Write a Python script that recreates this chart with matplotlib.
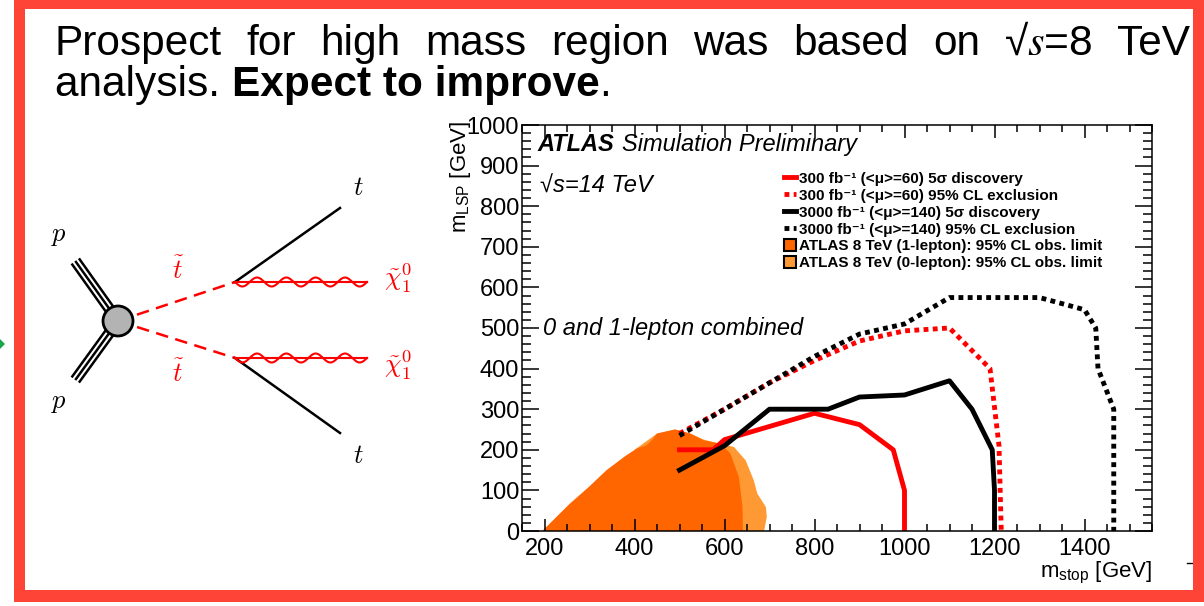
import numpy as np
import matplotlib
matplotlib.use('Agg')
import matplotlib.pyplot as plt
from matplotlib.lines import Line2D
from matplotlib.patches import Patch, Rectangle, Circle, Polygon
from matplotlib.ticker import MultipleLocator

plt.rcParams['font.family'] = ['Liberation Sans', 'DejaVu Sans']
plt.rcParams['mathtext.fontset'] = 'custom'
plt.rcParams['mathtext.rm'] = 'Liberation Sans'
plt.rcParams['mathtext.it'] = 'Liberation Sans:italic'
plt.rcParams['mathtext.bf'] = 'Liberation Sans:bold'

# ---- stop -> top + LSP sensitivity curves (m_stop, m_LSP in GeV)
disc300_x = [500, 575, 600, 800, 900, 975, 1000, 1000]
disc300_y = [200, 200, 225, 290, 262, 200, 100, 0]
excl300_x = [500, 600, 700, 800, 900, 1000, 1100, 1190, 1210, 1215]
excl300_y = [240, 300, 365, 420, 468, 493, 500, 400, 210, 0]
disc3000_x = [500, 600, 700, 830, 900, 1000, 1100, 1150, 1195, 1200, 1200]
disc3000_y = [150, 210, 300, 300, 330, 335, 370, 300, 200, 100, 0]
excl3000_x = [500, 600, 700, 800, 900, 1000, 1100, 1300, 1400, 1425, 1430, 1465, 1465]
excl3000_y = [235, 300, 365, 430, 485, 510, 575, 575, 545, 500, 400, 300, 0]

# 8 TeV observed limits
lim1l_x = [195, 256, 300, 338, 380, 405, 427, 440, 450, 490, 524, 554, 591, 613, 632, 640, 641]
lim1l_y = [0, 67, 110, 150, 185, 203, 211, 225, 240, 250, 240, 223, 215, 191, 133, 59, 0]
lim0l_x = [400, 400, 450, 490, 524, 554, 598, 621, 647, 665, 673, 692, 694, 688]
lim0l_y = [0, 200, 240, 250, 240, 225, 213, 207, 174, 125, 92, 59, 35, 0]

leg_labels = [
    '300 fb⁻¹ (<μ>=60) 5σ discovery',
    '300 fb⁻¹ (<μ>=60) 95% CL exclusion',
    '3000 fb⁻¹ (<μ>=140) 5σ discovery',
    '3000 fb⁻¹ (<μ>=140) 95% CL exclusion',
    'ATLAS 8 TeV (1-lepton): 95% CL obs. limit',
    'ATLAS 8 TeV (0-lepton): 95% CL obs. limit',
]

title1 = ['Prospect', 'for', 'high', 'mass', 'region', 'was', 'based', 'on', '√$s$=8', 'TeV']

# diagram geometry, slide pixels
blob = (118, 321)
vtx_top = (235, 282)
vtx_bot = (235, 358)
t_top = (340, 208)
t_bot = (340, 433)
wave_end = 367

RED = '#ff0000'
FRAME = '#fe4436'
DARK = '#ff6600'
LIGHT = '#ff9933'

fig = plt.figure(figsize=(12.04, 6.06), dpi=100)
bg = fig.add_axes([0, 0, 1, 1])
bg.set_xlim(0, 1204)
bg.set_ylim(606, 0)
bg.axis('off')

# slide frame
for (x0, y0, w, h) in [(14, 0, 11, 602), (14, 0, 1190, 9), (1193, 0, 11, 602), (14, 590, 1190, 12)]:
    bg.add_patch(Rectangle((x0, y0), w, h, color=FRAME, lw=0, zorder=5))
bg.add_patch(Polygon([(-4, 344), (0, 339), (5, 344), (0, 349)], color='#1aa64b', lw=0))
bg.plot([1187, 1194], [563, 563], color='black', lw=1)

# title, first line justified
TS = 30.5
words = [bg.text(0, 55, w, fontsize=TS, va='baseline', ha='left',
                 math_fontfamily='stix') for w in title1]
fig.canvas.draw()
r = fig.canvas.get_renderer()
widths = [t.get_window_extent(r).width for t in words]
gap = (1190 - 55 - sum(widths)) / (len(words) - 1)
x = 55
for t, wd in zip(words, widths):
    t.set_x(x)
    x += wd + gap

t1 = bg.text(55, 96, 'analysis. ', fontsize=TS, va='baseline')
x = 55 + t1.get_window_extent(r).width
t2 = bg.text(x, 96, 'Expect to improve', fontsize=TS, va='baseline', weight='bold')
x += t2.get_window_extent(r).width
bg.text(x, 96, '.', fontsize=TS, va='baseline')

# Feynman diagram: pp -> stop stop -> t chi t chi
d = np.array(blob) - np.array([76, 262])
n = np.array([d[1], -d[0]]) / np.hypot(*d)
for start in [(76, 262), (76, 379)]:
    s = np.array(start, float)
    nn = n if start[1] < blob[1] else np.array([n[0], -n[1]])
    for k in (-4.5, 0, 4.5):
        bg.plot([s[0] + k * nn[0], blob[0] + k * nn[0]], [s[1] + k * nn[1], blob[1] + k * nn[1]],
                color='black', lw=1.8, zorder=3)
bg.add_patch(Circle(blob, 15, facecolor='#b3b3b3', edgecolor='black', lw=2, zorder=4))
for v, t in [(vtx_top, t_top), (vtx_bot, t_bot)]:
    bg.plot([blob[0], v[0]], [blob[1], v[1]], color=RED, lw=1.8, dashes=(5, 3), zorder=3)
    bg.plot([v[0], t[0]], [v[1], t[1]], color='black', lw=1.8, zorder=3)
    xs = np.linspace(v[0], wave_end, 300)
    ys = v[1] + 4.5 * np.sin((xs - v[0]) / (wave_end - v[0]) * 4.5 * 2 * np.pi)
    bg.plot([v[0], wave_end], [v[1], v[1]], color=RED, lw=1.5, zorder=3)
    bg.plot(xs, ys, color=RED, lw=1.5, zorder=3)

feyn = dict(fontsize=19, math_fontfamily='cm', ha='center', va='center')
bg.text(59, 236, '$p$', **feyn)
bg.text(59, 403, '$p$', **feyn)
bg.text(178, 270, r'$\tilde{t}$', color=RED, **feyn)
bg.text(178, 373, r'$\tilde{t}$', color=RED, **feyn)
bg.text(358, 188, '$t$', **feyn)
bg.text(358, 456, '$t$', **feyn)
bg.text(398, 278, r'$\tilde{\chi}_1^0$', color=RED, **feyn)
bg.text(398, 365, r'$\tilde{\chi}_1^0$', color=RED, **feyn)

# sensitivity plot
ax = fig.add_axes([522 / 1204, 1 - 531 / 606, 630 / 1204, 406 / 606])
ax.fill(lim0l_x, lim0l_y, color=LIGHT, lw=0, zorder=1)
ax.fill(lim1l_x, lim1l_y, color=DARK, lw=0, zorder=1.1)
dot = (0, (1, 0.9))
ax.plot(excl300_x, excl300_y, color=RED, lw=3.5, ls=dot, dash_capstyle='butt', zorder=2)
ax.plot(excl3000_x, excl3000_y, color='black', lw=3.5, ls=dot, dash_capstyle='butt', zorder=2.05)
ax.plot(disc300_x, disc300_y, color=RED, lw=3.5, zorder=2.1)
ax.plot(disc3000_x, disc3000_y, color='black', lw=3.5, zorder=2.2)

ax.set_xlim(150, 1550)
ax.set_ylim(0, 1000)
ax.xaxis.set_major_locator(MultipleLocator(200))
ax.xaxis.set_minor_locator(MultipleLocator(50))
ax.yaxis.set_major_locator(MultipleLocator(100))
ax.yaxis.set_minor_locator(MultipleLocator(20))
ax.tick_params(which='both', direction='in', top=True, right=True, labelsize=17, width=1.1)
ax.tick_params(axis='y', which='major', length=12.5, pad=2)
ax.tick_params(axis='y', which='minor', length=6.5)
ax.tick_params(axis='x', which='major', length=9, pad=5)
ax.tick_params(axis='x', which='minor', length=5)
for sp in ax.spines.values():
    sp.set_linewidth(1.1)

ax.set_xlabel(r'm$_{\rm stop}$ [GeV]', fontsize=16, loc='right')
ax.set_ylabel(r'm$_{\rm LSP}$ [GeV]', fontsize=16, loc='top')
ax.xaxis.set_label_coords(1.0, -0.07)
ax.yaxis.set_label_coords(-0.078, 1.01)

ax.text(0.024, 0.936, 'ATLAS', transform=ax.transAxes, fontsize=17, weight='bold',
        style='italic', va='baseline')
ax.text(0.159, 0.936, 'Simulation Preliminary', transform=ax.transAxes, fontsize=17,
        style='italic', va='baseline')
ax.text(0.0286, 0.8325, '√s=14 TeV', transform=ax.transAxes, fontsize=17,
        style='italic', va='baseline')
ax.text(0.0333, 0.483, '0 and 1-lepton combined', transform=ax.transAxes, fontsize=17,
        style='italic', va='baseline')

handles = [
    Line2D([], [], color=RED, lw=3.5),
    Line2D([], [], color=RED, lw=3.5, ls=dot, dash_capstyle='butt'),
    Line2D([], [], color='black', lw=3.5),
    Line2D([], [], color='black', lw=3.5, ls=dot, dash_capstyle='butt'),
    Patch(facecolor=DARK, edgecolor='black', lw=1.5),
    Patch(facecolor=LIGHT, edgecolor='black', lw=1.5),
]
ax.legend(handles, leg_labels, loc='upper left', bbox_to_anchor=(0.416, 0.885),
          frameon=False, prop={'weight': 'bold', 'size': 11}, handlelength=0.75,
          handleheight=0.85, handletextpad=0.2, labelspacing=0.16, borderpad=0,
          borderaxespad=0)

fig.savefig('out.png', dpi=100)
